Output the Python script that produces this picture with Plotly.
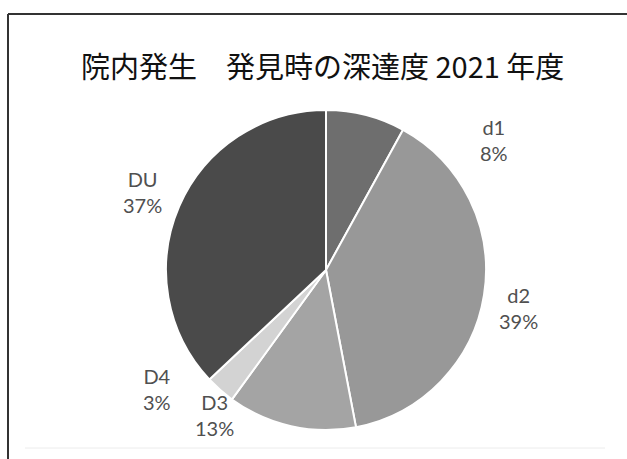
import plotly.graph_objects as go

# Depth-of-invasion breakdown (hospital-acquired cases, FY2021)
labels = ["d1", "d2", "D3", "D4", "DU"]
percent = [8, 39, 13, 3, 37]
colors = ["#6e6e6e", "#989898", "#a4a4a4", "#d3d3d3", "#4a4a4a"]

# label anchor positions in pixels (x from left, y from top)
label_px = [(494, 140), (518, 308), (215, 415), (157, 389), (142, 192)]

W, H = 627, 459
cx, cy, r = 326, 270, 160

fig = go.Figure(
    go.Pie(
        labels=labels,
        values=percent,
        sort=False,
        direction="clockwise",
        rotation=0,
        marker=dict(colors=colors, line=dict(color="white", width=2)),
        textinfo="none",
        hoverinfo="label+percent",
        showlegend=False,
        domain=dict(
            x=[(cx - r) / W, (cx + r) / W],
            y=[(H - cy - r) / H, (H - cy + r) / H],
        ),
    )
)

annotations = [
    dict(
        text="院内発生　発見時の深達度 2021 年度",
        x=322 / W, y=1 - 65 / H, xref="paper", yref="paper",
        showarrow=False, xanchor="center", yanchor="middle",
        font=dict(family="Noto Sans CJK JP", size=29, color="#111111"),
    )
]
for lab, p, (px, py) in zip(labels, percent, label_px):
    annotations.append(
        dict(
            text=f"{lab}<br>{p}%",
            x=px / W, y=1 - py / H, xref="paper", yref="paper",
            showarrow=False, xanchor="center", yanchor="middle",
            font=dict(family="Lato", size=20, color="#505050"),
        )
    )

shapes = [
    # frame: top and left edges
    dict(type="line", xref="paper", yref="paper",
         x0=8 / W, x1=1.0, y0=1 - 14 / H, y1=1 - 14 / H,
         line=dict(color="#333333", width=2)),
    dict(type="line", xref="paper", yref="paper",
         x0=8 / W, x1=8 / W, y0=1 - 14 / H, y1=0,
         line=dict(color="#333333", width=2)),
    # faint plot-area baseline
    dict(type="line", xref="paper", yref="paper",
         x0=25 / W, x1=605 / W, y0=1 - 448 / H, y1=1 - 448 / H,
         line=dict(color="#ececec", width=1)),
]

fig.update_layout(
    width=W, height=H,
    margin=dict(l=0, r=0, t=0, b=0),
    paper_bgcolor="white",
    plot_bgcolor="white",
    annotations=annotations,
    shapes=shapes,
)

fig.write_html("out.html")
